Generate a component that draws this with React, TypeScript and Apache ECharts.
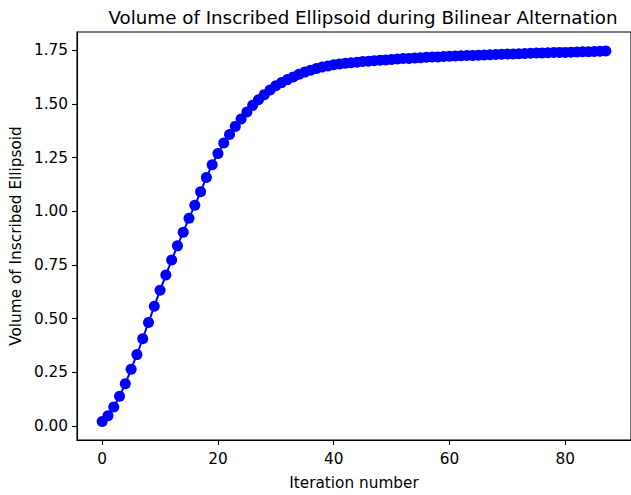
import React, { useEffect, useRef } from "react";
import * as echarts from "echarts";

const iterations: number[] = Array.from({ length: 88 }, (_, i) => i);
const volumes: number[] = [
  0.02, 0.047, 0.088, 0.138, 0.196, 0.264, 0.332, 0.406, 0.482, 0.557,
  0.632, 0.703, 0.773, 0.839, 0.903, 0.968, 1.028, 1.091, 1.158, 1.217,
  1.27, 1.319, 1.358, 1.396, 1.43, 1.463, 1.494, 1.52, 1.544, 1.566,
  1.585, 1.6, 1.614, 1.626, 1.639, 1.649, 1.658, 1.666, 1.673, 1.678,
  1.683, 1.687, 1.69, 1.693, 1.695, 1.698, 1.7, 1.702, 1.704, 1.706,
  1.708, 1.71, 1.712, 1.713, 1.715, 1.716, 1.718, 1.719, 1.72, 1.722,
  1.723, 1.724, 1.725, 1.726, 1.727, 1.728, 1.729, 1.73, 1.731, 1.732,
  1.733, 1.734, 1.735, 1.736, 1.737, 1.738, 1.738, 1.739, 1.74, 1.741,
  1.741, 1.742, 1.743, 1.744, 1.744, 1.745, 1.746, 1.747,
];
const xTicks: number[] = [0, 20, 40, 60, 80];
const yTicks: number[] = [0, 0.25, 0.5, 0.75, 1.0, 1.25, 1.5, 1.75];

const FONT = "DejaVu Sans";
const TICK_FONT = 15.3;

export default function App() {
  const ref = useRef<HTMLDivElement>(null);
  useEffect(() => {
    if (!ref.current) return;
    const chart = echarts.init(ref.current, undefined, { renderer: "svg" });
    const data = iterations.map((x, i) => [x, volumes[i]]);
    chart.setOption({
      animation: false,
      backgroundColor: "#ffffff",
      title: {
        text: "Volume of Inscribed Ellipsoid during Bilinear Alternation",
        left: 358,
        textAlign: "center",
        top: 3,
        textStyle: {
          fontFamily: FONT,
          fontSize: 18.3,
          fontWeight: "normal",
          color: "#000",
        },
      },
      grid: {
        left: 77,
        right: -5,
        top: 32,
        bottom: 48,
        show: true,
        borderColor: "#000",
        borderWidth: 1.1,
        backgroundColor: "transparent",
      },
      xAxis: {
        type: "value",
        min: -4.35,
        max: 91.35,
        name: "Iteration number",
        nameLocation: "middle",
        nameGap: 35,
        nameTextStyle: { fontFamily: FONT, fontSize: TICK_FONT, color: "#000" },
        splitLine: { show: false },
        axisLine: { show: true, onZero: false, lineStyle: { color: "#000", width: 1.1 } },
        axisTick: {
          show: true,
          length: 5,
          inside: false,
          customValues: xTicks,
          lineStyle: { color: "#000", width: 1.1 },
        },
        axisLabel: {
          customValues: xTicks,
          margin: 11,
          fontFamily: FONT,
          fontSize: TICK_FONT,
          color: "#000",
          formatter: (v: number) => String(v),
        },
      },
      yAxis: {
        type: "value",
        min: -0.066,
        max: 1.836,
        name: "Volume of Inscribed Ellipsoid",
        nameLocation: "middle",
        nameGap: 51,
        nameTextStyle: { fontFamily: FONT, fontSize: TICK_FONT, color: "#000" },
        splitLine: { show: false },
        axisLine: { show: true, onZero: false, lineStyle: { color: "#000", width: 1.1 } },
        axisTick: {
          show: true,
          length: 5,
          inside: false,
          customValues: yTicks,
          lineStyle: { color: "#000", width: 1.1 },
        },
        axisLabel: {
          customValues: yTicks,
          margin: 9,
          fontFamily: FONT,
          fontSize: TICK_FONT,
          color: "#000",
          formatter: (v: number) => v.toFixed(2),
        },
      },
      series: [
        {
          type: "line",
          data,
          symbol: "circle",
          symbolSize: 11,
          showAllSymbol: true,
          itemStyle: { color: "#0000ff" },
          lineStyle: { color: "#0000ff", width: 2 },
          clip: false,
        },
      ],
    });
    return () => chart.dispose();
  }, []);
  return (
    <div
      ref={ref}
      style={{ position: "absolute", left: 0, top: 0, width: 631, height: 495 }}
    />
  );
}
